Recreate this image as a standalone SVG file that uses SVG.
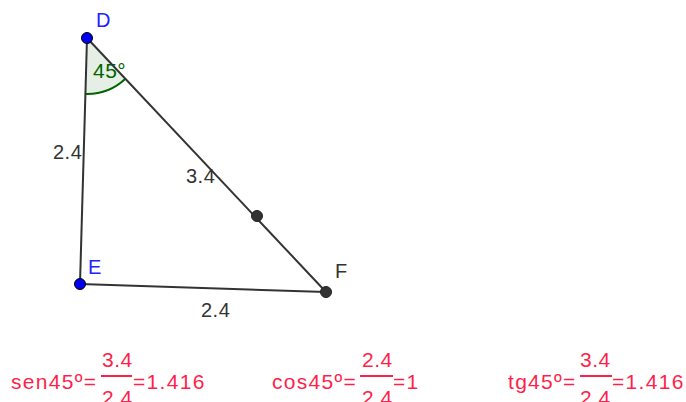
<svg xmlns="http://www.w3.org/2000/svg" width="686" height="402" viewBox="0 0 686 402">
<style>
.lbl{font-family:"Liberation Sans",Arial,sans-serif;font-size:20px;fill:#333}
.blue{fill:#2222ff}
.eq{font-family:"Liberation Sans",Arial,sans-serif;font-size:21px;fill:#ff1f4b;letter-spacing:0.5px}
.main{letter-spacing:1.3px}
.seg{stroke:#333;stroke-width:2;fill:none}
.bar{stroke:#ff1f4b;stroke-width:2}
</style>
<rect width="686" height="402" fill="#fff"/>
<g id="angle">
<path d="M87,38 L85.4,94 A56,56 0 0 0 125.4,78.8 Z" fill="#006400" fill-opacity="0.1" stroke="none"/>
<path d="M85.4,94 A56,56 0 0 0 125.4,78.8" fill="none" stroke="#006400" stroke-width="2"/>
<text x="93" y="78" font-family="Liberation Sans,Arial,sans-serif" font-size="21" letter-spacing="0.5" fill="#006400">45°</text>
</g>
<g id="connectors">
<line class="seg" x1="87" y1="38" x2="80" y2="284"/>
<line class="seg" x1="87" y1="38" x2="326" y2="292"/>
<line class="seg" x1="80" y1="284" x2="326" y2="292"/>
</g>
<g id="labels">
<text class="lbl" x="53" y="159" letter-spacing="0.5">2.4</text>
<text class="lbl" x="186" y="183" letter-spacing="0.5">3.4</text>
<text class="lbl" x="201" y="317" letter-spacing="0.5">2.4</text>
</g>
<g id="pointM"><circle cx="257" cy="216" r="5.5" fill="#333" stroke="#222" stroke-width="1"/></g>
<g id="nodeD"><circle cx="87" cy="38" r="5.5" fill="#0000ee" stroke="#000" stroke-width="1"/><text class="lbl blue" x="96" y="27">D</text></g>
<g id="nodeE"><circle cx="80" cy="284" r="5.5" fill="#0000ee" stroke="#000" stroke-width="1"/><text class="lbl blue" x="88" y="274">E</text></g>
<g id="nodeF"><circle cx="326" cy="292" r="5.5" fill="#333" stroke="#222" stroke-width="1"/><text class="lbl" x="335" y="278">F</text></g>
<g id="eqSen">
<text class="eq main" x="11" y="389">sen45º=</text>
<text class="eq" x="102" y="367">3.4</text>
<line class="bar" x1="101" y1="376" x2="132" y2="376"/>
<text class="eq" x="102" y="405">2.4</text>
<text class="eq main" x="133" y="389">=1.416</text>
</g>
<g id="eqCos">
<text class="eq main" x="272" y="389">cos45º=</text>
<text class="eq" x="362" y="367">2.4</text>
<line class="bar" x1="360" y1="376" x2="393" y2="376"/>
<text class="eq" x="362" y="405">2.4</text>
<text class="eq main" x="393" y="389">=1</text>
</g>
<g id="eqTg">
<text class="eq main" x="508" y="389">tg45º=</text>
<text class="eq" x="580" y="367">3.4</text>
<line class="bar" x1="580" y1="376" x2="612" y2="376"/>
<text class="eq" x="580" y="405">2.4</text>
<text class="eq main" x="612" y="389">=1.416</text>
</g>
</svg>
